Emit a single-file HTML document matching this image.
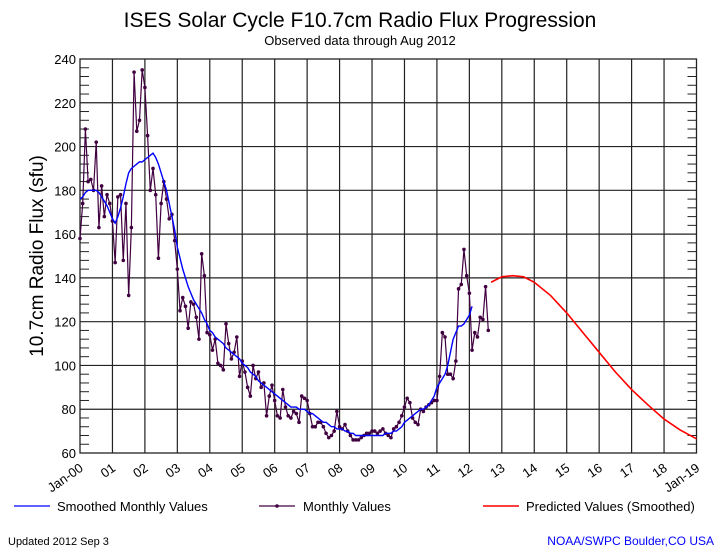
<!DOCTYPE html>
<html><head><meta charset="utf-8"><style>
html,body{margin:0;padding:0;background:#fff;}
svg{display:block;font-family:"Liberation Sans",sans-serif;}
</style></head><body>
<svg id="chart" width="720" height="550" viewBox="0 0 720 550">
<text x="360" y="27" text-anchor="middle" font-size="21" fill="#000" font-weight="300">ISES Solar Cycle F10.7cm Radio Flux Progression</text>
<text x="360" y="45" text-anchor="middle" font-size="13" fill="#000">Observed data through Aug 2012</text>
<text transform="translate(43,256) rotate(-90)" text-anchor="middle" font-size="19" fill="#000">10.7cm Radio Flux (sfu)</text>
<g id="grid"></g>
<g id="axes"></g>
<g id="series"></g>
<g>
<line x1="14" y1="506" x2="50" y2="506" stroke="#0000ff" stroke-width="1.2"/>
<text x="57" y="511" font-size="13">Smoothed Monthly Values</text>
<line x1="259" y1="506" x2="295" y2="506" stroke="#400040" stroke-width="1.2"/>
<circle cx="277" cy="506" r="1.8" fill="#400040"/>
<text x="303" y="511" font-size="13">Monthly Values</text>
<line x1="483" y1="506" x2="519" y2="506" stroke="#ff0000" stroke-width="1.5"/>
<text x="526" y="511" font-size="13">Predicted Values (Smoothed)</text>
</g>
<text x="8" y="545" font-size="11">Updated 2012 Sep  3</text>
<text x="714" y="545" font-size="12" fill="#0000ff" text-anchor="end">NOAA/SWPC Boulder,CO USA</text>
</svg>
<script>
const yTicks=[60,80,100,120,140,160,180,200,220,240];
const xLabels=["Jan-00","01","02","03","04","05","06","07","08","09","10","11","12","13","14","15","16","17","18","Jan-19"];
const monthly=[158,174,208,184,185,180,202,163,182,168,178,174,
166,147,177,178,148,174,132,163,234,207,212,235,
227,205,180,190,178,149,174,184,176,167,169,157,
144,125,131,127,117,129,128,122,112,151,141,115,
114,107,112,101,100,98,119,110,103,106,113,95,
102,97,90,86,100,94,97,90,92,77,86,91,
84,77,76,89,81,77,76,79,78,74,86,85,
84,78,72,72,74,74,72,69,67,68,70,79,
72,71,73,70,68,66,66,66,67,68,69,69,
70,70,69,70,71,69,68,67,71,72,74,77,
81,85,83,76,74,73,80,79,81,82,83,84,
84,95,115,113,96,96,94,102,135,137,153,141,
133,107,115,113,122,121,136,116];
const smoothed=[176,177,179,180,180,180,180,179,177,175,173,170,
167,165,168,172,177,183,188,190,191,192,193,193,
194,195,196,197,195,192,188,184,180,174,168,162,
154,149,144,140,136,133,130,128,126,124,121,119,
116,115,113,112,111,110,108,107,106,105,104,103,
101,100,99,97,96,95,93,92,91,90,89,88,
87,86,85,84,83,82,81,81,81,80,80,80,
79,78,78,77,76,75,74,74,73,72,72,71,
71,71,70,70,69,69,68,68,68,68,68,68,
68,68,68,68,68,69,69,69,70,70,71,72,
74,75,76,77,78,79,80,80,81,82,84,86,
90,92,94,96,100,106,112,115,118,118,119,121,
123,127];
const predYears=[12.67,13.0,13.33,13.67,14.0,14.5,15.0,15.5,16.0,16.5,17.0,17.5,18.0,18.5,19.0];
const predValues=[138,140.5,141,140.5,138,132,124,115,106,97,89,82,75.5,70.5,66.5];

const NS="http://www.w3.org/2000/svg";
const X0=80,X1=696.5,Y0=453,Y1=59;
function xs(yr){return X0+yr*(X1-X0)/19;}
function ys(v){return Y0-(v-60)*(Y0-Y1)/180;}
function mk(tag,attrs,parent){const e=document.createElementNS(NS,tag);for(const k in attrs)e.setAttribute(k,attrs[k]);parent.appendChild(e);return e;}
const grid=document.getElementById('grid'),axes=document.getElementById('axes'),ser=document.getElementById('series');
for(let i=1;i<19;i++){const l=mk('line',{x1:xs(i),x2:xs(i),y1:Y1,y2:Y0,stroke:'#222','stroke-width':1.2},grid);

}
yTicks.forEach(v=>{if(v>60&&v<240){const l=mk('line',{x1:X0,x2:X1,y1:ys(v),y2:ys(v),stroke:'#222','stroke-width':1.2},grid);

}
const t=mk('text',{x:X0-4,y:ys(v)+5,'text-anchor':'end','font-size':13},axes);t.textContent=v;

});
for(let v=60;v<=240;v+=4){if(v%20){mk('line',{x1:X0,x2:X0+9,y1:ys(v),y2:ys(v),stroke:'#222'},axes);mk('line',{x1:X1-9,x2:X1,y1:ys(v),y2:ys(v),stroke:'#222'},axes);}}
mk('rect',{x:X0,y:Y1,width:X1-X0,height:Y0-Y1,fill:'none',stroke:'#222','stroke-width':1.3},axes);
xLabels.forEach((s,i)=>{const x=xs(i)+4,y=Y0+17;const t=mk('text',{x:x,y:y,'text-anchor':'end','font-size':13,transform:`rotate(-35 ${x} ${y})`},axes);t.textContent=s;

});
const mp=monthly.map((v,i)=>xs(i/12)+','+ys(v)).join(' ');
const ml=mk('polyline',{points:mp,fill:'none',stroke:'#400040','stroke-width':1.2},ser);


monthly.forEach((v,i)=>{const c=mk('circle',{cx:xs(i/12),cy:ys(v),r:1.8,fill:'#400040'},ser);

});
const sl=mk('polyline',{points:smoothed.map((v,i)=>xs(i/12)+','+ys(v)).join(' '),fill:'none',stroke:'#0000ff','stroke-width':1.4},ser);


const pl=mk('polyline',{points:predValues.map((v,i)=>xs(predYears[i])+','+ys(v)).join(' '),fill:'none',stroke:'#ff0000','stroke-width':1.6},ser);


</script>
</body></html>
